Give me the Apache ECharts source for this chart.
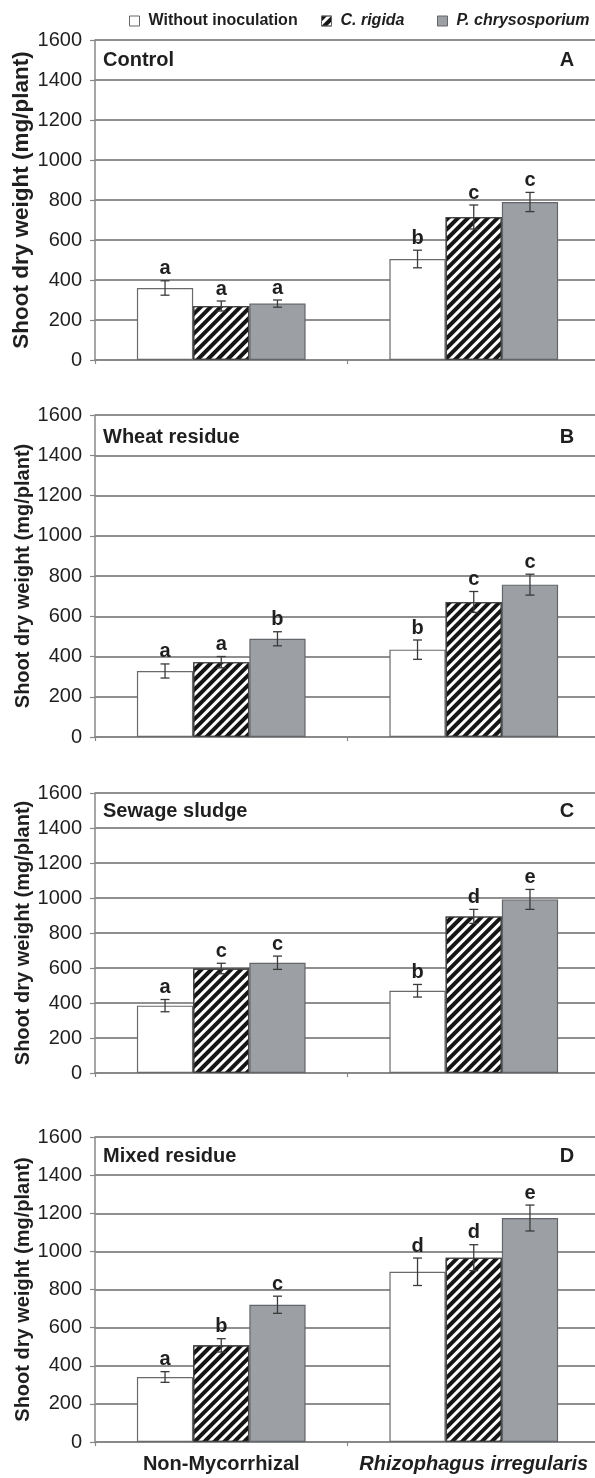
<!DOCTYPE html>
<html><head><meta charset="utf-8">
<script src="https://cdn.jsdelivr.net/npm/echarts@6/dist/echarts.min.js"></script>
<style>html,body{margin:0;padding:0;background:#fff}#c{width:595px;height:1478px}</style>
</head><body><div id="c"></div>
<script>
// ---------- data ----------
const categories = ['Non-Mycorrhizal', 'Rhizophagus irregularis'];
const treatments = ['Without inoculation', 'C. rigida', 'P. chrysosporium'];
const panelNames = ['Control', 'Wheat residue', 'Sewage sludge', 'Mixed residue'];
const panelTags = ['A', 'B', 'C', 'D'];
const yName = 'Shoot dry weight (mg/plant)';
const yMin = 0, yMax = 1600, yStep = 200;

// rows = treatment (Without, C. rigida, P. chrysosporium); columns = category
const meansA = [[360, 505], [270, 715], [282, 790]];
const errA   = [[36, 44], [25, 60], [18, 48]];
const lettersA = [['a', 'b'], ['a', 'c'], ['a', 'c']];

const meansB = [[328, 434], [372, 671], [488, 757]];
const errB   = [[35, 48], [28, 52], [35, 52]];
const lettersB = [['a', 'b'], ['a', 'c'], ['b', 'c']];

const meansC = [[385, 470], [597, 895], [630, 992]];
const errC   = [[35, 36], [30, 40], [38, 57]];
const lettersC = [['a', 'b'], ['c', 'd'], ['c', 'e']];

const meansD = [[341, 893], [507, 967], [720, 1175]];
const errD   = [[28, 72], [35, 68], [45, 68]];
const lettersD = [['a', 'd'], ['b', 'd'], ['c', 'e']];

const means = [meansA, meansB, meansC, meansD];
const errs = [errA, errB, errC, errD];
const letters = [lettersA, lettersB, lettersC, lettersD];

// ---------- layout / style ----------
const FONT = '"Liberation Sans", Arial, Helvetica, sans-serif';
const TXT = '#1f1f1f';
const layout = [
  { top: 40,   height: 320, titleY: 60,   nameSize: 22.5 },
  { top: 415,  height: 322, titleY: 437,  nameSize: 20 },
  { top: 793,  height: 280, titleY: 811,  nameSize: 20 },
  { top: 1137, height: 305, titleY: 1156, nameSize: 20 }
];
const GRID_LEFT = 95, GRID_WIDTH = 505;
const CAT_GAP = 0.332;

const hatch = {
  symbol: 'rect', symbolSize: 1, color: '#151515',
  dashArrayX: [1, 0], dashArrayY: [4, 3], rotation: -Math.PI / 4
};
const barStyles = [
  { color: '#ffffff', borderColor: '#6a6a6a', borderWidth: 1.2 },
  { color: '#ffffff', borderColor: '#444', borderWidth: 1.2, decal: hatch },
  { color: '#9ca0a4', borderColor: '#62666a', borderWidth: 1.2 }
];

const grids = [], xAxes = [], yAxes = [], series = [], graphics = [];
layout.forEach((L, p) => {
  grids.push({ left: GRID_LEFT, width: GRID_WIDTH, top: L.top, height: L.height,
               containLabel: false, outerBoundsMode: 'none' });
  xAxes.push({
    type: 'category', gridIndex: p, data: categories,
    axisLine: { lineStyle: { color: '#888', width: 1.5 } },
    axisTick: { show: true, length: 4, lineStyle: { color: '#888', width: 1.2 } },
    axisLabel: p === 3 ? {
      interval: 0, margin: 12,
      formatter: (v, i) => i === 0 ? '{n|' + v + '}' : '{i|' + v + '}',
      rich: {
        n: { fontFamily: FONT, fontSize: 20, fontWeight: 'bold', color: TXT },
        i: { fontFamily: FONT, fontSize: 20, fontWeight: 'bold', fontStyle: 'italic', color: TXT }
      }
    } : { show: false },
    splitLine: { show: false }
  });
  yAxes.push({
    type: 'value', gridIndex: p, min: yMin, max: yMax, interval: yStep,
    name: yName, nameLocation: 'middle', nameGap: 62, nameMoveOverlap: false,
    nameTextStyle: { fontFamily: FONT, fontSize: L.nameSize, fontWeight: 'bold', color: TXT },
    axisLine: { show: true, lineStyle: { color: '#888', width: 1.5 } },
    axisTick: { show: true, length: 5, lineStyle: { color: '#888', width: 1.2 } },
    axisLabel: { fontFamily: FONT, fontSize: 20, color: TXT, margin: 13, formatter: v => String(v) },
    splitLine: { lineStyle: { color: '#6a6a6a', width: 1.5 } }
  });
  treatments.forEach((name, t) => {
    series.push({
      type: 'bar', name, xAxisIndex: p, yAxisIndex: p,
      data: means[p][t], barGap: '0%', barCategoryGap: (CAT_GAP * 100) + '%',
      itemStyle: barStyles[t], z: 2, animation: false
    });
  });
  const errData = [], errLetters = [];
  treatments.forEach((name, t) => {
    categories.forEach((c, ci) => {
      errData.push([ci, means[p][t][ci], errs[p][t][ci], t]);
      errLetters.push(letters[p][t][ci]);
    });
  });
  series.push({
    type: 'custom', xAxisIndex: p, yAxisIndex: p, z: 5, animation: false,
    data: errData, encode: { x: 0, y: 1 }, silent: true,
    renderItem: (params, api) => {
      const ci = api.value(0), m = api.value(1), e = api.value(2), t = api.value(3);
      const band = api.size([1, 0])[0];
      const bw = band * (1 - CAT_GAP) / 3;
      const x = api.coord([ci, m])[0] + (t - 1) * bw;
      const yT = api.coord([ci, m + e])[1];
      const yB = api.coord([ci, m - e])[1];
      const ls = { stroke: '#3a3a3a', lineWidth: 1.3 };
      const cw = 4.5;
      return {
        type: 'group', children: [
          { type: 'line', shape: { x1: x, y1: yT, x2: x, y2: yB }, style: ls },
          { type: 'line', shape: { x1: x - cw, y1: yT, x2: x + cw, y2: yT }, style: ls },
          { type: 'line', shape: { x1: x - cw, y1: yB, x2: x + cw, y2: yB }, style: ls },
          { type: 'text', x: x, y: yT - 2, style: {
              text: errLetters[params.dataIndex], fill: TXT,
              font: 'bold 20px ' + FONT, align: 'center', verticalAlign: 'bottom' } }
        ]
      };
    }
  });
  graphics.push({ type: 'text', x: 103, y: L.titleY, style: {
    text: panelNames[p], fill: TXT, font: 'bold 20px ' + FONT, verticalAlign: 'middle' } });
  graphics.push({ type: 'text', x: 567, y: L.titleY, style: {
    text: panelTags[p], fill: TXT, font: 'bold 20px ' + FONT, align: 'center', verticalAlign: 'middle' } });
});

const legendLefts = [124, 316, 432];
const legends = treatments.map((name, i) => ({
  data: [{ name, textStyle: i > 0 ? { fontStyle: 'italic' } : {} }],
  left: legendLefts[i], top: 8, itemWidth: 10, itemHeight: 10, icon: 'rect',
  itemStyle: { borderColor: '#666', borderWidth: 1 },
  textStyle: { fontFamily: FONT, fontSize: 16, fontWeight: 'bold', color: TXT, padding: [0, 0, 0, 4] },
  selectedMode: false
}));

const chart = echarts.init(document.getElementById('c'), null, { renderer: 'canvas' });
chart.setOption({
  animation: false,
  backgroundColor: '#ffffff',
  legend: legends,
  grid: grids, xAxis: xAxes, yAxis: yAxes, series,
  graphic: graphics
});
</script></body></html>
